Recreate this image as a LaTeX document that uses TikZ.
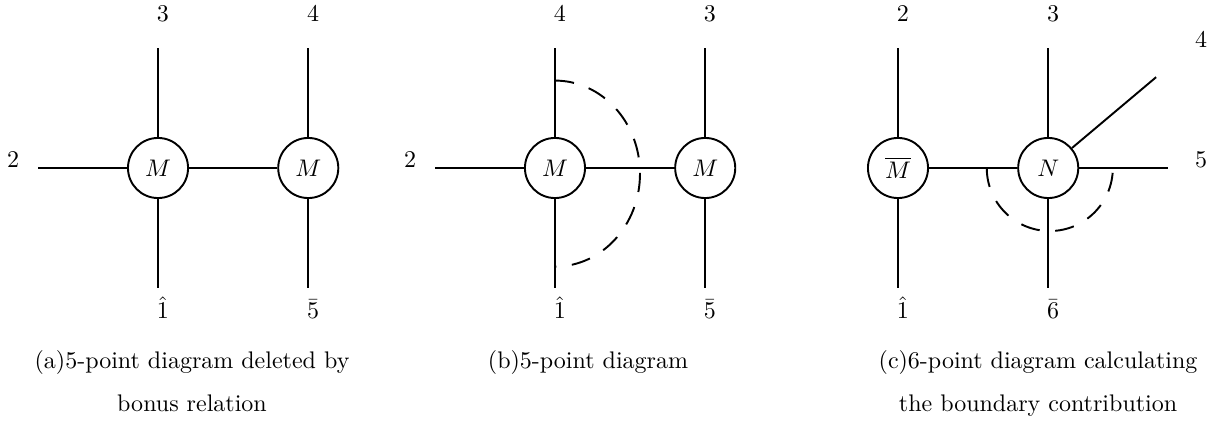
\documentclass[tikz,border=0pt]{standalone}
\usepackage{amsmath,amssymb}
\usepackage{tikz}

\tikzset{
  blob/.style={circle, draw, thick, minimum size=0.88cm, inner sep=0pt},
  leg/.style={thick},
  cut/.style={thick, dash pattern=on 8pt off 6.5pt},
  lbl/.style={anchor=base, inner sep=0pt},
}

\begin{document}
\begin{tikzpicture}
\useasboundingbox (0,-3.705) rectangle (17.851,2.460);
% (a) two M vertices
\begin{scope}[xshift=2.314cm]
\node[blob] (a1) at (0,0) {$M$};
\node[blob] (a2) at (2.2,0) {$M$};
\coordinate (a1n) at (0,1.76);
\coordinate (a1s) at (0,-1.76);
\coordinate (a1w) at (-1.76,0);
\coordinate (a2n) at (2.2,1.76);
\coordinate (a2s) at (2.2,-1.76);
\draw[leg] (a1) -- (a1n);
\draw[leg] (a1) -- (a1s);
\draw[leg] (a1) -- (a1w);
\draw[leg] (a1) -- (a2);
\draw[leg] (a2) -- (a2n);
\draw[leg] (a2) -- (a2s);
\node[lbl] (la2) at (-2.12,0) {$2$};
\node[lbl] (la3) at (0.07,2.15) {$3$};
\node[lbl] (la4) at (2.27,2.15) {$4$};
\node[lbl] (la1) at (0.07,-2.2) {$\hat{1}$};
\node[lbl] (la5) at (2.27,-2.2) {$\bar{5}$};
\end{scope}
% (b) same graph, cut through the left vertex
\begin{scope}[xshift=8.127cm]
\node[blob] (b1) at (0,0) {$M$};
\node[blob] (b2) at (2.2,0) {$M$};
\coordinate (b1n) at (0,1.76);
\coordinate (b1s) at (0,-1.76);
\coordinate (b1w) at (-1.76,0);
\coordinate (b2n) at (2.2,1.76);
\coordinate (b2s) at (2.2,-1.76);
\draw[leg] (b1) -- (b1n);
\draw[leg] (b1) -- (b1s);
\draw[leg] (b1) -- (b1w);
\draw[leg] (b1) -- (b2);
\draw[leg] (b2) -- (b2n);
\draw[leg] (b2) -- (b2s);
\draw[cut] (0,1.28) arc[start angle=90, end angle=-90, x radius=1.245, y radius=1.362];
\node[lbl] (lb2) at (-2.12,0) {$2$};
\node[lbl] (lb4) at (0.07,2.15) {$4$};
\node[lbl] (lb3) at (2.27,2.15) {$3$};
\node[lbl] (lb1) at (0.07,-2.2) {$\hat{1}$};
\node[lbl] (lb5) at (2.27,-2.2) {$\bar{5}$};
\end{scope}
% (c) Mbar and N vertices
\begin{scope}[xshift=13.150cm]
\node[blob] (c1) at (0,0) {$\overline{M}$};
\node[blob] (c2) at (2.2,0) {$N$};
\coordinate (c1n) at (0,1.76);
\coordinate (c1s) at (0,-1.76);
\coordinate (c2n) at (2.2,1.76);
\coordinate (c2s) at (2.2,-1.76);
\coordinate (c2e) at (3.96,0);
\coordinate (c2ne) at (3.78,1.33);
\draw[leg] (c1) -- (c1n);
\draw[leg] (c1) -- (c1s);
\draw[leg] (c1) -- (c2);
\draw[leg] (c2) -- (c2n);
\draw[leg] (c2) -- (c2s);
\draw[leg] (c2) -- (c2e);
\draw[leg] (c2) -- (c2ne);
\draw[cut] (1.30,0) arc[start angle=180, end angle=360, radius=0.923];
\node[lbl] (lc2) at (0.07,2.15) {$2$};
\node[lbl] (lc3) at (2.27,2.15) {$3$};
\node[lbl] (lc4) at (4.44,1.77) {$4$};
\node[lbl] (lc5) at (4.44,0) {$5$};
\node[lbl] (lc1) at (0.07,-2.2) {$\hat{1}$};
\node[lbl] (lc6) at (2.27,-2.2) {$\bar{6}$};
\end{scope}
% captions
\node[lbl] (capa) at (2.812,-2.929) {(a)5-point diagram deleted by};
\node[lbl] (capaa) at (2.812,-3.573) {bonus relation};
\node[lbl] (capb) at (8.611,-2.929) {(b)5-point diagram};
\node[lbl] (capc) at (15.201,-2.929) {(c)6-point diagram calculating};
\node[lbl] (capcc) at (15.201,-3.573) {the boundary contribution};
\end{tikzpicture}
\end{document}
